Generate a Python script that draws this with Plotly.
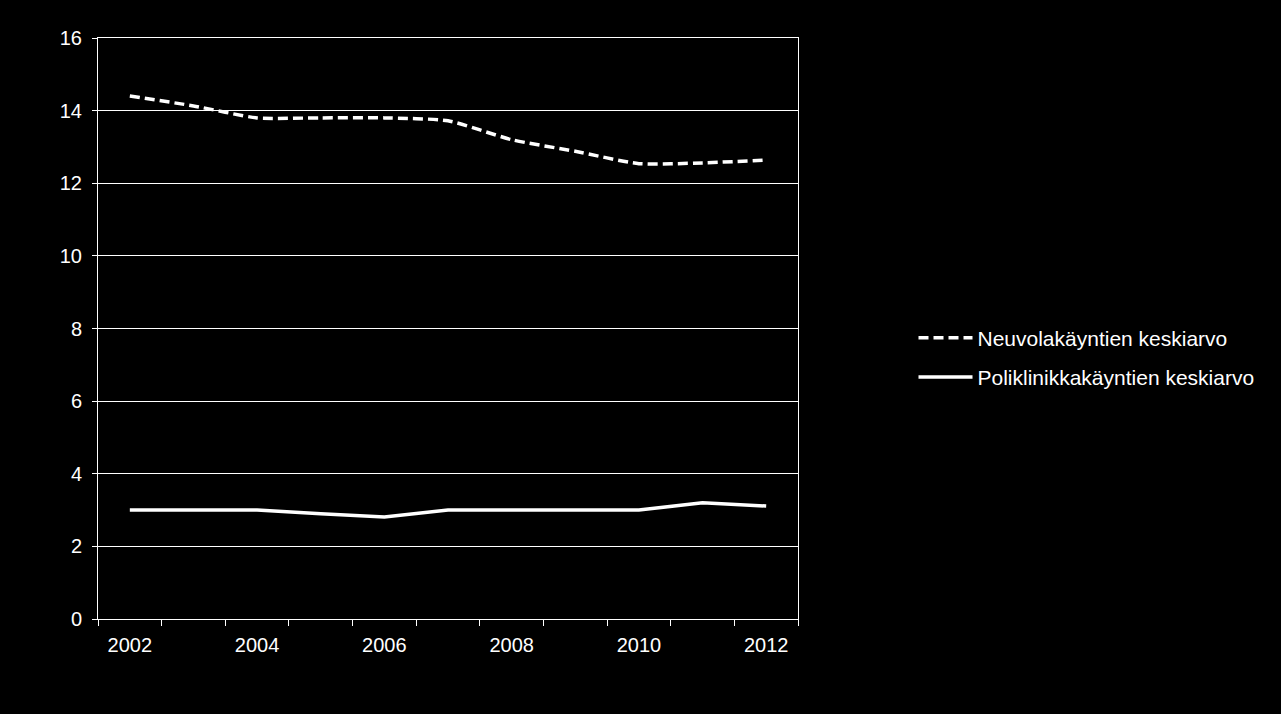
import plotly.graph_objects as go

years = [2002, 2003, 2004, 2005, 2006, 2007, 2008, 2009, 2010, 2011, 2012]
neuvola = [14.4, 14.13, 13.8, 13.8, 13.8, 13.72, 13.2, 12.88, 12.54, 12.56, 12.64]
poliklinikka = [3.0, 3.0, 3.0, 2.9, 2.81, 3.0, 3.0, 3.0, 3.0, 3.2, 3.11]
tick_years = [2002, 2004, 2006, 2008, 2010, 2012]
y_ticks = [0, 2, 4, 6, 8, 10, 12, 14, 16]

fig = go.Figure()
fig.add_trace(go.Scatter(
    x=years, y=neuvola, mode="lines", name="Neuvolakäyntien keskiarvo",
    legendgroup="a",
    line=dict(color="white", width=3.5, dash="10px,5px", shape="spline", smoothing=0.6),
))
fig.add_trace(go.Scatter(
    x=years, y=poliklinikka, mode="lines", name="Poliklinikkakäyntien keskiarvo",
    legendgroup="b",
    line=dict(color="white", width=3.5),
))

fig.update_layout(
    width=1281, height=714,
    margin=dict(l=98, r=483, t=38, b=95),
    paper_bgcolor="black", plot_bgcolor="black",
    font=dict(family="Liberation Sans, Arial, sans-serif", size=20, color="white"),
    showlegend=True,
    legend=dict(x=1.165, y=0.45, xanchor="left", yanchor="middle",
                bgcolor="rgba(0,0,0,0)", font=dict(size=21, color="white"),
                tracegroupgap=9, itemwidth=54),
)
fig.update_xaxes(
    range=[2001.5, 2012.5], tickmode="array", tickvals=tick_years,
    ticktext=[str(t) for t in tick_years],
    showgrid=False, zeroline=False, showline=True, linecolor="white", linewidth=1,
    mirror=True, ticks="", ticklen=0, ticklabelstandoff=8,
    minor=dict(tick0=2001.5, dtick=1, ticks="outside", ticklen=6, tickcolor="white", showgrid=False),
    tickfont=dict(size=20, color="white"),
)
fig.update_yaxes(
    range=[0, 16], tickmode="array", tickvals=y_ticks,
    showgrid=True, gridcolor="white", gridwidth=1, zeroline=False,
    showline=True, linecolor="white", linewidth=1, mirror=True,
    ticks="outside", ticklen=5, tickcolor="white", ticklabelstandoff=6,
    tickfont=dict(size=20, color="white"),
)

fig.write_html("out.html")
